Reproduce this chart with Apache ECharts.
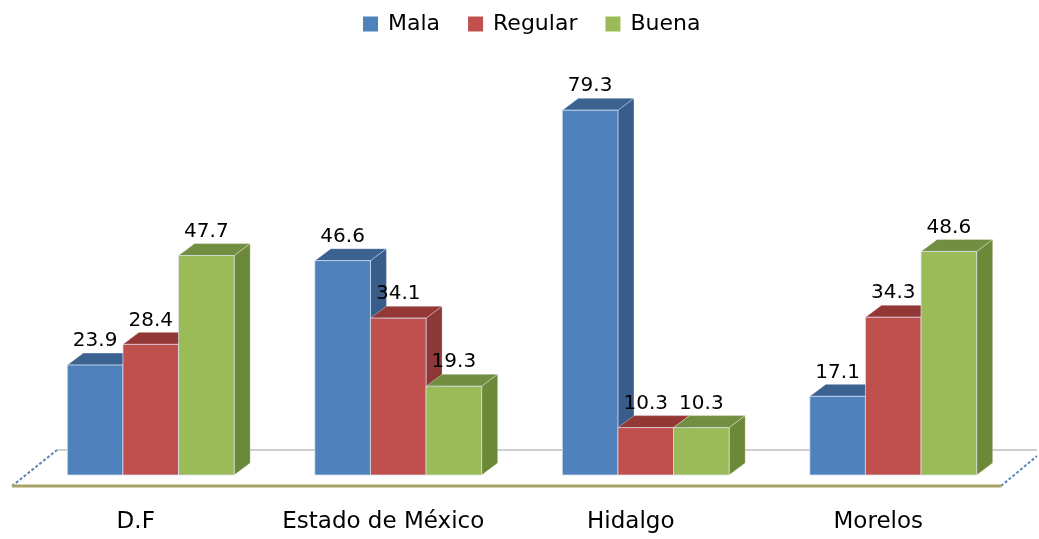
<!DOCTYPE html>
<html>
<head>
<meta charset="utf-8">
<script src="https://cdn.jsdelivr.net/npm/echarts@6/dist/echarts.min.js"></script>
<style>
  html, body { margin: 0; padding: 0; background: #fff; }
  #chart { width: 1039px; height: 539px; }
</style>
</head>
<body>
<div id="chart"></div>
<script>
// datos
const categories = ['D.F', 'Estado de México', 'Hidalgo', 'Morelos']
const seriesNames = ['Mala', 'Regular', 'Buena']
const mala = [23.9, 46.6, 79.3, 17.1]
const regular = [28.4, 34.1, 10.3, 34.3]
const buena = [47.7, 19.3, 10.3, 48.6]

const frontColors = ['#4F81BD', '#C0504D', '#9BBB59']
const sideColors = ['#385D8A', '#8C3836', '#6C8839']
const topColors = ['#3C6291', '#943835', '#728E40']

const FONT = 'DejaVu Sans'
// profundidad del efecto 3D
const DX = 16
const DY = -12

function barRender(idx) {
  return function (params, api) {
    const cat = api.value(0)
    const val = api.value(1)
    const top = api.coord([cat, val])
    const base = api.coord([cat, 0])
    const bw = api.size([1, 0])[0] * 0.2247
    const x0 = top[0] + (idx - 1) * bw - bw / 2
    const x1 = x0 + bw
    const yt = top[1]
    const yb = base[1]
    return {
      type: 'group',
      children: [
        {
          type: 'polygon',
          shape: { points: [[x1, yt], [x1 + DX, yt + DY], [x1 + DX, yb + DY], [x1, yb]] },
          style: { fill: sideColors[idx], stroke: 'rgba(255,255,255,0.25)', lineWidth: 1 }
        },
        {
          type: 'polygon',
          shape: { points: [[x0, yt], [x0 + DX, yt + DY], [x1 + DX, yt + DY], [x1, yt]] },
          style: { fill: topColors[idx], stroke: 'rgba(255,255,255,0.35)', lineWidth: 1 }
        },
        {
          type: 'rect',
          shape: { x: x0, y: yt, width: bw, height: yb - yt },
          style: { fill: frontColors[idx], stroke: 'rgba(220,230,245,0.7)', lineWidth: 1 }
        },
        {
          type: 'text',
          style: {
            text: val.toFixed(1),
            x: x0 + bw / 2,
            y: yt - 14,
            align: 'center',
            verticalAlign: 'bottom',
            font: '20px "' + FONT + '"',
            fill: '#000'
          }
        }
      ]
    }
  }
}

// piso en perspectiva
function floorRender(params, api) {
  const cs = params.coordSys
  const yb = cs.y + cs.height
  const left = cs.x
  const right = cs.x + cs.width
  const fy = yb + 11
  const by = yb - 25
  const dash = { stroke: '#5f86b5', lineWidth: 2, lineDash: [3, 2] }
  return {
    type: 'group',
    children: [
      { type: 'line', shape: { x1: left + 30, y1: by, x2: right + 20, y2: by }, style: { stroke: '#BFBFBF', lineWidth: 1.5 } },
      { type: 'line', shape: { x1: left - 15, y1: fy, x2: left + 30, y2: by }, style: dash },
      { type: 'line', shape: { x1: right - 16, y1: fy, x2: right + 20, y2: by + 6 }, style: dash },
      { type: 'line', shape: { x1: left - 15, y1: fy, x2: right - 16, y2: fy }, style: { stroke: '#A8A468', lineWidth: 3 } }
    ]
  }
}

const chart = echarts.init(document.getElementById('chart'))
const allValues = [mala, regular, buena]

const series = [{
  type: 'custom',
  name: 'floor',
  silent: true,
  renderItem: floorRender,
  data: [[0, 0]],
  encode: { x: 0, y: 1 }
}]
seriesNames.forEach((name, i) => {
  series.push({
    type: 'custom',
    name: name,
    itemStyle: { color: frontColors[i] },
    renderItem: barRender(i),
    data: allValues[i].map((v, k) => [k, v]),
    encode: { x: 0, y: 1 }
  })
})

chart.setOption({
  animation: false,
  legend: {
    data: seriesNames,
    top: 8,
    left: 358,
    itemWidth: 15,
    itemHeight: 15,
    itemGap: 28,
    icon: 'rect',
    textStyle: { fontFamily: FONT, fontSize: 22, color: '#000', padding: [0, 0, 0, 5] }
  },
  grid: { left: 27, right: 22, top: 107, bottom: 64 },
  xAxis: {
    type: 'category',
    data: categories,
    axisLine: { show: false },
    axisTick: { show: false },
    axisLabel: { fontFamily: FONT, fontSize: 23, color: '#000', margin: 36, interval: 0, padding: [0, 30, 0, 0] }
  },
  yAxis: {
    type: 'value',
    min: 0,
    max: 80,
    show: false,
    splitLine: { show: false }
  },
  series: series
})
</script>
</body>
</html>
